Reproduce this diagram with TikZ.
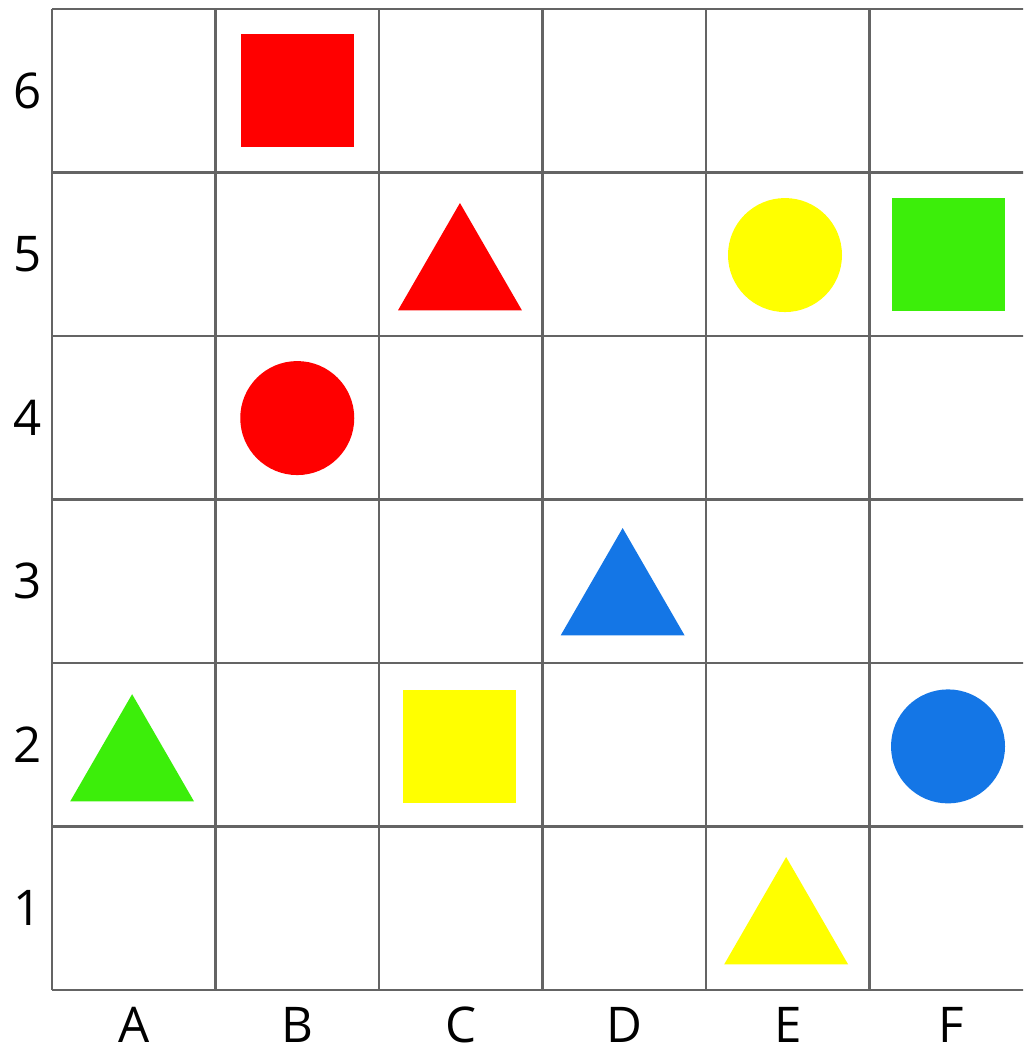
\documentclass[tikz,border=0pt]{standalone}
\usepackage{fontspec}
\setmainfont{Open Sans}
\usetikzlibrary{shapes.geometric}
\definecolor{shapered}{RGB}{255,0,0}
\definecolor{shapegreen}{RGB}{60,238,10}
\definecolor{shapeyellow}{RGB}{255,255,0}
\definecolor{shapeblue}{RGB}{20,118,230}
\definecolor{gridgray}{RGB}{100,100,100}
\tikzstyle{sq} = [
    rectangle,
    minimum size=1.13cm,
    inner sep=0pt,
    outer sep=0pt
]
\tikzstyle{disc} = [
    circle,
    minimum size=1.14cm,
    inner sep=0pt,
    outer sep=0pt
]
\tikzstyle{tri} = [
    regular polygon,
    regular polygon sides=3,
    minimum size=1.43cm,
    inner sep=0pt,
    outer sep=0pt
]
\tikzstyle{gridline} = [
    line width=0.6pt,
    draw=gridgray
]
\tikzstyle{axislabel} = [
    font=\fontsize{14}{16}\selectfont,
    text=black
]

\begin{document}
\begin{tikzpicture}[x=1.635cm, y=1.635cm]
    \useasboundingbox (-0.318,-0.379) rectangle (5.939,6.055);
    \clip (-0.318,-0.379) rectangle (5.939,6.055);
    % grid
    \foreach \i in {0,...,6} {
        \draw[gridline] (\i,0) -- (\i,6);
        \draw[gridline] (0,\i) -- (6.2,\i);
    }
    % labels
    \foreach \n in {1,...,6}
        \node[axislabel] (row\n) at (-0.147,\n-0.5) {\n};
    \foreach \c [count=\k] in {A,B,C,D,E,F}
        \node[axislabel] (col\c) at (\k-0.5,-0.214) {\c};
    % shapes
    \node[sq, fill=shapered] (b6) at (1.5,5.5) {};
    \node[tri, fill=shapered] (c5) at (2.495,4.376) {};
    \node[disc, fill=shapeyellow] (e5) at (4.483,4.495) {};
    \node[sq, fill=shapegreen] (f5) at (5.483,4.498) {};
    \node[disc, fill=shapered] (b4) at (1.5,3.498) {};
    \node[tri, fill=shapeblue] (d3) at (3.49,2.388) {};
    \node[tri, fill=shapegreen] (a2) at (0.49,1.372) {};
    \node[sq, fill=shapeyellow] (c2) at (2.49,1.49) {};
    \node[disc, fill=shapeblue] (f2) at (5.48,1.49) {};
    \node[tri, fill=shapeyellow] (e1) at (4.49,0.376) {};
\end{tikzpicture}
\end{document}
